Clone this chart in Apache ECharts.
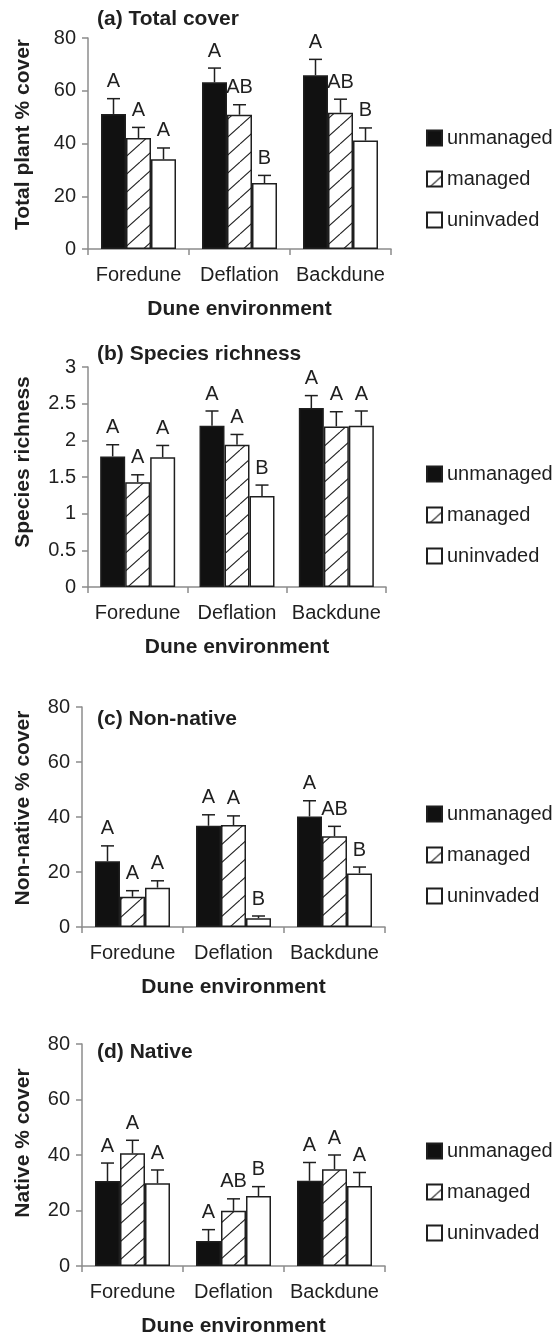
<!DOCTYPE html>
<html>
<head>
<meta charset="utf-8">
<script src="https://cdn.jsdelivr.net/npm/echarts@6/dist/echarts.min.js"></script>
<style>
  html, body { margin: 0; padding: 0; background: #fff; }
  #chart { width: 558px; height: 1336px; }
</style>
</head>
<body>
<div id="chart"></div>
<script>
// categories and treatment groups
const categories = ['Foredune', 'Deflation', 'Backdune'];
const groups = ['unmanaged', 'managed', 'uninvaded'];

// rows: unmanaged, managed, uninvaded ; columns follow categories
// (a) total plant % cover
const totalMean = [[51.2, 63.2, 65.9], [42.1, 50.9, 51.7], [34.0, 25.0, 41.1]];
const totalSE = [[5.8, 5.4, 6.0], [4.0, 3.8, 5.1], [4.3, 2.9, 4.8]];
const totalLetters = [['A', 'A', 'A'], ['A', 'AB', 'AB'], ['A', 'B', 'B']];

// (b) species richness
const richMean = [[1.78, 2.20, 2.44], [1.43, 1.94, 2.19], [1.77, 1.24, 2.20]];
const richSE = [[0.16, 0.20, 0.17], [0.10, 0.14, 0.20], [0.16, 0.15, 0.20]];
const richLetters = [['A', 'A', 'A'], ['A', 'A', 'A'], ['A', 'B', 'A']];

// (c) non-native % cover
const nonNativeMean = [[23.9, 36.8, 40.2], [11.0, 37.1, 33.0], [14.3, 3.2, 19.5]];
const nonNativeSE = [[5.6, 4.0, 5.7], [2.2, 3.3, 3.6], [2.5, 0.8, 2.3]];
const nonNativeLetters = [['A', 'A', 'A'], ['A', 'A', 'AB'], ['A', 'B', 'B']];

// (d) native % cover
const nativeMean = [[30.6, 9.0, 30.7], [40.6, 19.9, 34.9], [29.8, 25.2, 28.8]];
const nativeSE = [[6.5, 4.1, 6.6], [4.7, 4.3, 5.1], [4.8, 3.4, 4.9]];
const nativeLetters = [['A', 'A', 'A'], ['A', 'AB', 'A'], ['A', 'B', 'A']];

const FONT = "'Liberation Sans', Arial, sans-serif";
const INK = '#1f1f1f';
const AXIS = '#8c8c8c';
const BAR_W = 25;

// diagonal hatch for the managed bars
const hatch = document.createElement('canvas');
hatch.width = 20;
hatch.height = 18;
const hctx = hatch.getContext('2d');
hctx.fillStyle = '#fff';
hctx.fillRect(0, 0, 20, 18);
hctx.strokeStyle = '#222';
hctx.lineWidth = 1.1;
[-20, 0, 20].forEach(dx => {
  hctx.beginPath();
  hctx.moveTo(dx, 18);
  hctx.lineTo(dx + 20, 0);
  hctx.stroke();
});

const fills = ['#111', { image: hatch, repeat: 'repeat' }, '#fff'];

const panels = [
  { title: '(a) Total cover', yName: 'Total plant % cover', max: 80, interval: 20,
    mean: totalMean, se: totalSE, letters: totalLetters,
    grid: { left: 88, top: 38, width: 303, height: 211 }, titleTop: 9, legendTop: 128, namePad: 18 },
  { title: '(b) Species richness', yName: 'Species richness', max: 3, interval: 0.5,
    mean: richMean, se: richSE, letters: richLetters,
    grid: { left: 88, top: 367, width: 298, height: 220 }, titleTop: 344, legendTop: 464, namePad: 30 },
  { title: '(c) Non-native', yName: 'Non-native % cover', max: 80, interval: 20,
    mean: nonNativeMean, se: nonNativeSE, letters: nonNativeLetters,
    grid: { left: 82, top: 707, width: 303, height: 220 }, titleTop: 709, legendTop: 804, namePad: 18 },
  { title: '(d) Native', yName: 'Native % cover', max: 80, interval: 20,
    mean: nativeMean, se: nativeSE, letters: nativeLetters,
    grid: { left: 82, top: 1044, width: 303, height: 222 }, titleTop: 1042, legendTop: 1141, namePad: 24 }
];

const option = {
  backgroundColor: '#fff',
  animation: false,
  textStyle: { fontFamily: FONT, color: INK },
  title: [],
  legend: [],
  grid: [],
  xAxis: [],
  yAxis: [],
  series: []
};

panels.forEach((p, k) => {
  option.grid.push(Object.assign({ outerBoundsMode: 'none', containLabel: false }, p.grid));
  option.title.push({
    text: p.title, left: 97, top: p.titleTop, padding: 0,
    textStyle: { fontFamily: FONT, fontSize: 21, fontWeight: 'bold', color: INK }
  });
  option.legend.push({
    orient: 'vertical', left: 426, top: p.legendTop, padding: 0,
    itemWidth: 15, itemHeight: 15, itemGap: 21, itemTextGap: 3,
    icon: 'rect', selectedMode: false,
    textStyle: { fontFamily: FONT, fontSize: 20, color: INK },
    data: groups
  });
  option.xAxis.push({
    type: 'category', gridIndex: k, data: categories,
    name: 'Dune environment', nameLocation: 'middle', nameGap: 50, nameMoveOverlap: false,
    nameTextStyle: { fontFamily: FONT, fontSize: 21, fontWeight: 'bold', color: INK },
    axisLine: { show: true, lineStyle: { color: AXIS, width: 1.5 } },
    axisTick: { show: true, length: 6, lineStyle: { color: AXIS, width: 1.5 } },
    axisLabel: { interval: 0, hideOverlap: false, margin: 16, fontFamily: FONT, fontSize: 20, color: INK },
    splitLine: { show: false }
  });
  option.yAxis.push({
    type: 'value', gridIndex: k, min: 0, max: p.max, interval: p.interval,
    name: p.yName, nameLocation: 'middle', nameRotate: 90, nameMoveOverlap: false,
    nameGap: p.grid.left - 34,
    nameTextStyle: { fontFamily: FONT, fontSize: 21, fontWeight: 'bold', color: INK,
      padding: [0, 0, 0, p.namePad] },
    axisLine: { show: true, lineStyle: { color: AXIS, width: 1.5 } },
    axisTick: { show: true, length: 6, lineStyle: { color: AXIS, width: 1.5 } },
    axisLabel: { margin: 12, fontFamily: FONT, fontSize: 20, color: INK },
    splitLine: { show: false }
  });

  groups.forEach((g, gi) => {
    option.series.push({
      name: g, type: 'bar', xAxisIndex: k, yAxisIndex: k,
      barWidth: BAR_W, barGap: '0%',
      itemStyle: { color: fills[gi], borderColor: INK, borderWidth: 1.5 },
      data: p.mean[gi]
    });
  });

  // upper error bars with significance letters
  const errData = [];
  const errLetters = [];
  groups.forEach((g, gi) => {
    categories.forEach((c, ci) => {
      errData.push([ci, p.mean[gi][ci] + p.se[gi][ci], gi, p.mean[gi][ci]]);
      errLetters.push(p.letters[gi][ci]);
    });
  });
  option.series.push({
    type: 'custom', xAxisIndex: k, yAxisIndex: k, z: 5,
    data: errData,
    renderItem: (params, api) => {
      const top = api.coord([api.value(0), api.value(1)]);
      const base = api.coord([api.value(0), api.value(3)]);
      const x = top[0] + (api.value(2) - 1) * BAR_W;
      const ls = { stroke: INK, lineWidth: 1.5 };
      return {
        type: 'group',
        children: [
          { type: 'line', shape: { x1: x, y1: base[1], x2: x, y2: top[1] }, style: ls },
          { type: 'line', shape: { x1: x - 6.5, y1: top[1], x2: x + 6.5, y2: top[1] }, style: ls },
          { type: 'text', x: x, y: top[1] - 7,
            style: { text: errLetters[params.dataIndex], fill: INK, font: '20px ' + FONT,
              align: 'center', verticalAlign: 'bottom' } }
        ]
      };
    }
  });
});

const chart = echarts.init(document.getElementById('chart'));
chart.setOption(option);
window.addEventListener('resize', chart.resize);
</script>
</body>
</html>
